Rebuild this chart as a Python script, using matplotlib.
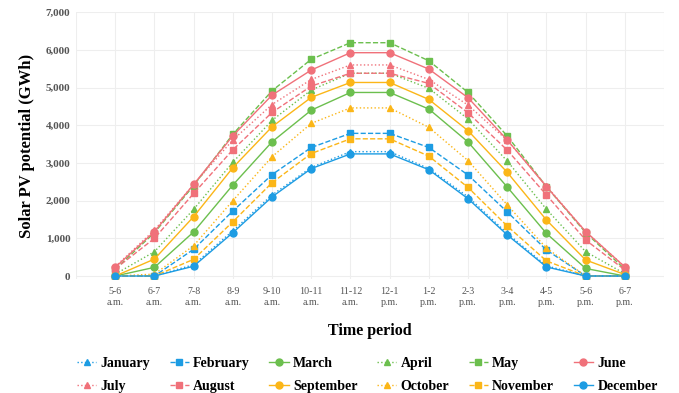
import matplotlib.pyplot as plt
import numpy as np

# time slots (x axis)
periods = ['5-6\na.m.', '6-7\na.m.', '7-8\na.m.', '8-9\na.m.', '9-10\na.m.', '10-11\na.m.',
           '11-12\na.m.', '12-1\np.m.', '1-2\np.m.', '2-3\np.m.', '3-4\np.m.', '4-5\np.m.',
           '5-6\np.m.', '6-7\np.m.']

# solar PV potential per month (GWh)
january = [0, 0, 300, 1200, 2150, 2880, 3300, 3300, 2850, 2100, 1130, 270, 0, 0]
february = [0, 0, 710, 1725, 2690, 3410, 3785, 3785, 3410, 2680, 1700, 690, 0, 0]
march = [0, 230, 1170, 2415, 3560, 4400, 4870, 4870, 4430, 3555, 2360, 1130, 200, 0]
april = [50, 645, 1770, 3020, 4130, 4935, 5380, 5380, 4980, 4165, 3050, 1770, 645, 60]
may = [180, 1150, 2400, 3760, 4915, 5750, 6190, 6190, 5710, 4870, 3715, 2370, 1150, 180]
june = [230, 1180, 2430, 3720, 4800, 5465, 5925, 5925, 5490, 4730, 3610, 2370, 1180, 240]
july = [250, 1220, 2430, 3610, 4550, 5215, 5600, 5600, 5215, 4535, 3600, 2390, 1175, 245]
august = [190, 1000, 2190, 3350, 4340, 5040, 5380, 5380, 5110, 4330, 3340, 2150, 955, 160]
september = [0, 450, 1575, 2875, 3960, 4740, 5135, 5135, 4685, 3855, 2750, 1485, 425, 40]
october = [0, 50, 805, 2000, 3165, 4050, 4460, 4460, 3945, 3060, 1885, 740, 0, 0]
november = [0, 0, 443, 1440, 2475, 3250, 3640, 3640, 3180, 2350, 1325, 400, 0, 0]
december = [0, 0, 260, 1150, 2100, 2850, 3240, 3240, 2820, 2050, 1090, 240, 0, 0]

blue = '#1d9ce3'
green = '#6cbf4e'
red = '#f0717a'
yellow = '#fbb618'

# name, values, colour, marker, linestyle
series = [
    ('January', january, blue, '^', ':'),
    ('February', february, blue, 's', '--'),
    ('March', march, green, 'o', '-'),
    ('April', april, green, '^', ':'),
    ('May', may, green, 's', '--'),
    ('June', june, red, 'o', '-'),
    ('July', july, red, '^', ':'),
    ('August', august, red, 's', '--'),
    ('September', september, yellow, 'o', '-'),
    ('October', october, yellow, '^', ':'),
    ('November', november, yellow, 's', '--'),
    ('December', december, blue, 'o', '-'),
]

plt.rcParams['font.family'] = ['Liberation Serif', 'DejaVu Serif']

fig = plt.figure(figsize=(6.79, 3.93), dpi=100)
ax = fig.add_axes([0.112, 0.29, 0.866, 0.679])

x = np.arange(len(periods))
handles = {}
for name, vals, col, mk, ls in series:
    ln, = ax.plot(x, vals, color=col, marker=mk, linestyle=ls, linewidth=1.0,
                  markersize=5, label=name)
    handles[name] = ln

ax.set_xlim(-1, 14)
ax.set_ylim(-80, 7000)
ax.set_xticks(np.arange(-1, 15))
ax.set_xticklabels([''] + periods + [''], fontsize=7.2, color='#555555')
ax.set_yticks(np.arange(0, 7001, 1000))
ax.set_yticklabels([f'{v:,}' for v in range(0, 7001, 1000)], fontsize=8,
                   fontweight='bold', color='#555555')
ax.tick_params(length=0)
ax.tick_params(axis='y', pad=4)
ax.tick_params(axis='x', pad=6)
ax.grid(True, color='#eeeeee', linewidth=0.8)
ax.set_axisbelow(True)
for s in ax.spines.values():
    s.set_visible(False)

ax.set_ylabel('Solar PV potential (GWh)', fontsize=12, fontweight='bold', labelpad=8)
ax.set_xlabel('Time period', fontsize=11.5, fontweight='bold', labelpad=12)

# matplotlib fills legend columns first, so interleave the two rows
order = ['January', 'July', 'February', 'August', 'March', 'September',
         'April', 'October', 'May', 'November', 'June', 'December']
fig.legend([handles[n] for n in order], order, ncol=6, loc='lower center',
           bbox_to_anchor=(0.541, -0.022), frameon=False, borderaxespad=0.2,
           prop={'weight': 'bold', 'size': 10}, handlelength=1.4,
           columnspacing=1.4, handletextpad=0.3, labelspacing=0.75)

fig.savefig('out.png', dpi=100)
